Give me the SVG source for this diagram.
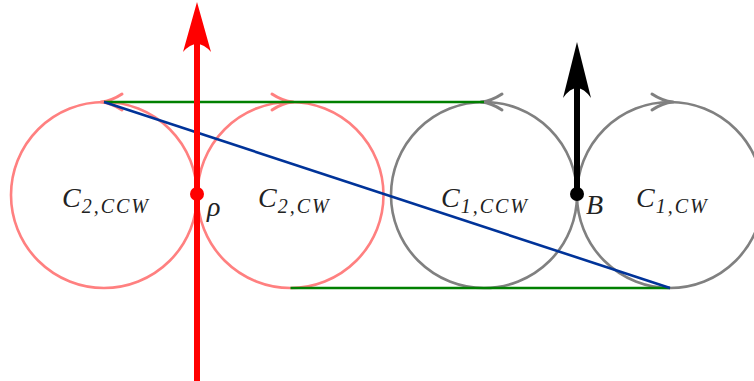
<svg xmlns="http://www.w3.org/2000/svg" width="754" height="381" viewBox="0 0 754 381">
<style>
.pink{fill:none;stroke:#ff8080;stroke-width:2.6}
.grey{fill:none;stroke:#808080;stroke-width:2.6}
.ahp{fill:none;stroke:#ff8080;stroke-width:3;stroke-linecap:round;stroke-linejoin:round}
.ahg{fill:none;stroke:#808080;stroke-width:3;stroke-linecap:round;stroke-linejoin:round}
.lbl{font-family:"Liberation Serif","DejaVu Serif",serif;font-style:italic;font-size:28px;fill:#222}
.sub{font-size:20px;letter-spacing:2px}
</style>
<defs>
<path id="tip" d="M -21,-8 C -12,-2 -5,-0.5 0,0 C -5,0.5 -12,2 -21,8"/>
</defs>
<g id="c2ccw">
<circle class="pink" cx="104" cy="195" r="93"/>
<use href="#tip" class="ahp" transform="translate(101,102) rotate(180)"/>
<text class="lbl" x="62" y="207">C<tspan class="sub" dx="1" dy="6">2,CCW</tspan></text>
</g>
<g id="c2cw">
<circle class="pink" cx="290.5" cy="195" r="93"/>
<use href="#tip" class="ahp" transform="translate(293,102)"/>
<text class="lbl" x="258" y="207">C<tspan class="sub" dx="1" dy="6">2,CW</tspan></text>
</g>
<g id="c1ccw">
<circle class="grey" cx="484" cy="195" r="93"/>
<use href="#tip" class="ahg" transform="translate(481,102) rotate(180)"/>
<text class="lbl" x="441" y="207">C<tspan class="sub" dx="1" dy="6">1,CCW</tspan></text>
</g>
<g id="c1cw">
<circle class="grey" cx="670" cy="195" r="93"/>
<use href="#tip" class="ahg" transform="translate(673,102)"/>
<text class="lbl" x="636" y="207">C<tspan class="sub" dx="1" dy="6">1,CW</tspan></text>
</g>
<g id="connectors">
<line x1="104" y1="102" x2="484" y2="102" stroke="#008000" stroke-width="2.6"/>
<line x1="290.5" y1="288" x2="670" y2="288" stroke="#008000" stroke-width="2.6"/>
<line x1="104" y1="102" x2="670" y2="288" stroke="#003399" stroke-width="2.6"/>
</g>
<g id="rho">
<line x1="197" y1="381" x2="197" y2="40" stroke="#ff0000" stroke-width="6"/>
<path d="M 197,2 L 211,52 Q 204,44 197,44 Q 190,44 183,52 Z" fill="#ff0000"/>
<circle cx="197" cy="194" r="7" fill="#ff0000"/>
<text class="lbl" x="207" y="216" font-size="24px">ρ</text>
</g>
<g id="B">
<line x1="577" y1="195" x2="577" y2="80" stroke="#000" stroke-width="6"/>
<path d="M 577,42 L 591,98 Q 584,88 577,88 Q 570,88 563,98 Z" fill="#000"/>
<circle cx="577" cy="194" r="7" fill="#000"/>
<text class="lbl" x="586" y="214">B</text>
</g>
</svg>
